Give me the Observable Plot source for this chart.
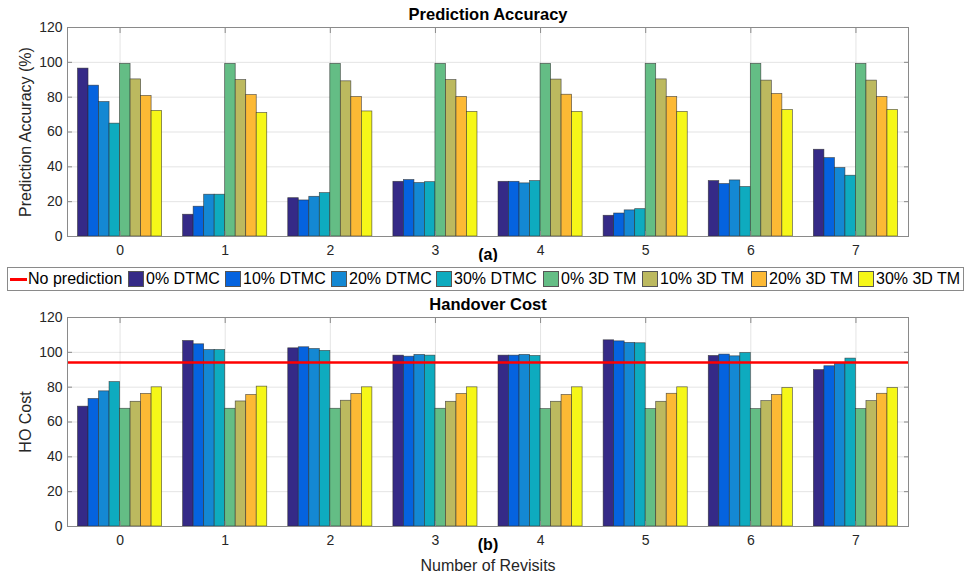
<!DOCTYPE html>
<html>
<head>
<meta charset="utf-8">
<script src="https://cdn.jsdelivr.net/npm/d3@7"></script>
<script src="https://cdn.jsdelivr.net/npm/@observablehq/plot@0.6"></script>
<style>
  body { margin: 0; background: #fff; font-family: "Liberation Sans", Arial, sans-serif; }
  #wrap { position: relative; width: 967px; height: 576px; overflow: hidden; background: #fff; }
  #top { position: absolute; left: 0; top: 0; }
  #bottom { position: absolute; left: 0; top: 295px; }
  #legend { position: absolute; left: 7px; top: 267px; width: 957px; height: 24px; box-sizing: border-box;
            border: 1px solid #8a8a8a; background: #fff; font-size: 16px; color: #000; white-space: nowrap; }
  .item { position: absolute; top: 0; height: 22px; display: flex; align-items: center; }
  .sw { width: 16px; height: 16px; border: 1px solid #555; box-sizing: border-box; margin-right: 2px; }
  .ln { width: 17px; height: 3px; background: #ff0000; margin-right: 1px; }
</style>
</head>
<body>
<div id="wrap">
  <div id="top"></div>
  <div id="legend"></div>
  <div id="bottom"></div>
</div>
<script>
// ---------- data ----------
const revisits = [0, 1, 2, 3, 4, 5, 6, 7];
const seriesNames = ["0% DTMC", "10% DTMC", "20% DTMC", "30% DTMC", "0% 3D TM", "10% 3D TM", "20% 3D TM", "30% 3D TM"];
const seriesColors = ["#352a87", "#0563df", "#1488d3", "#0eabbf", "#64bd85", "#bcb95f", "#fcb935", "#f6f718"];
const yTicks = [0, 20, 40, 60, 80, 100, 120];
const noPredictionLabel = "No prediction";
const noPredictionCost = [94.1];

// Prediction accuracy (%) per series, indexed by number of revisits
const acc0DTMC  = [96.4, 12.5, 22.0, 31.4, 31.4, 11.9, 31.8, 49.8];
const acc10DTMC = [86.6, 17.1, 20.7, 32.4, 31.4, 13.2, 30.1, 45.0];
const acc20DTMC = [77.2, 24.0, 22.8, 30.7, 30.5, 15.0, 32.2, 39.3];
const acc30DTMC = [64.8, 24.0, 24.9, 31.2, 31.8, 15.7, 28.4, 34.9];
const acc0TM    = [99.1, 99.1, 99.1, 99.1, 99.1, 99.1, 99.1, 99.1];
const acc10TM   = [90.2, 89.8, 89.1, 89.8, 90.1, 90.2, 89.5, 89.5];
const acc20TM   = [80.7, 81.2, 80.1, 80.1, 81.4, 80.1, 81.8, 80.1];
const acc30TM   = [72.1, 70.9, 71.8, 71.5, 71.5, 71.5, 72.6, 72.6];

// Handover cost per series, indexed by number of revisits
const ho0DTMC  = [68.8, 106.5, 102.3, 98.1, 98.1, 106.9, 97.9, 89.8];
const ho10DTMC = [73.2, 104.6, 102.9, 97.5, 98.1, 106.3, 98.7, 92.0];
const ho20DTMC = [77.6, 101.3, 101.9, 98.5, 98.5, 105.4, 97.7, 93.6];
const ho30DTMC = [82.9, 101.3, 100.8, 98.1, 97.9, 105.2, 99.6, 96.4];
const ho0TM    = [67.6, 67.6, 67.6, 67.6, 67.4, 67.4, 67.4, 67.4];
const ho10TM   = [71.6, 71.8, 72.2, 71.6, 71.6, 71.6, 72.0, 72.0];
const ho20TM   = [76.1, 75.5, 76.1, 76.1, 75.5, 76.2, 75.5, 76.2];
const ho30TM   = [79.9, 80.3, 79.9, 79.9, 79.9, 79.9, 79.5, 79.5];

const accRows = [acc0DTMC, acc10DTMC, acc20DTMC, acc30DTMC, acc0TM, acc10TM, acc20TM, acc30TM];
const hoRows  = [ho0DTMC, ho10DTMC, ho20DTMC, ho30DTMC, ho0TM, ho10TM, ho20TM, ho30TM];

// ---------- chart ----------
const groupWidth = 0.8;
const barW = groupWidth / seriesNames.length;
const FONT = "'Liberation Sans', Arial, Helvetica, sans-serif";

function chart({rows, title, letter, yLabel, xLabel, height, marginTop, marginBottom, extra = []}) {
  const data = rows.flatMap((vals, k) => vals.map((v, i) => ({revisit: revisits[i], series: seriesNames[k], k, value: v})));
  const marks = [
    Plot.gridY(yTicks, {stroke: "#000", strokeOpacity: 0.11}),
    Plot.gridX(revisits, {stroke: "#000", strokeOpacity: 0.11}),
    Plot.rect(data, {
      x1: d => d.revisit - groupWidth / 2 + d.k * barW,
      x2: d => d.revisit - groupWidth / 2 + (d.k + 1) * barW,
      y1: d => 0, y2: "value",
      fill: "series", stroke: "#2b2b2b", strokeWidth: 0.7, strokeOpacity: 0.75
    }),
    ...extra,
    Plot.frame({stroke: "#8a8a8a"}),
    Plot.axisY(yTicks, {anchor: "left", tickSize: 0, tickPadding: 5, label: null, fontSize: 14}),
    Plot.axisY(yTicks, {anchor: "left", tickSize: -5, tickFormat: () => "", label: null, stroke: "#8a8a8a"}),
    Plot.axisY(yTicks, {anchor: "right", tickSize: -5, tickFormat: () => "", label: null, stroke: "#8a8a8a"}),
    Plot.axisX(revisits, {anchor: "bottom", tickSize: 0, tickPadding: 9, label: null, fontSize: 14}),
    Plot.axisX(revisits, {anchor: "bottom", tickSize: -5, tickFormat: () => "", label: null, stroke: "#8a8a8a"}),
    Plot.axisX(revisits, {anchor: "top", tickSize: -5, tickFormat: () => "", label: null, stroke: "#8a8a8a"}),
    Plot.text([title], {text: d => d, frameAnchor: "top", lineAnchor: "middle", textAnchor: "middle", dy: -13, fontWeight: "bold", fontSize: 16.5, fill: "#000"}),
    Plot.text([letter], {text: d => d, frameAnchor: "bottom", lineAnchor: "middle", textAnchor: "middle", dy: 18, fontWeight: "bold", fontSize: 16, fill: "#000"}),
    Plot.text([yLabel], {text: d => d, frameAnchor: "left", lineAnchor: "middle", textAnchor: "middle", dx: -42, rotate: -90, fontSize: 16, fill: "#262626"})
  ];
  if (xLabel) marks.push(Plot.text([xLabel], {text: d => d, frameAnchor: "bottom", lineAnchor: "middle", textAnchor: "middle", dy: 39, fontSize: 16, fill: "#262626"}));
  return Plot.plot({
    width: 967, height, marginLeft: 67, marginRight: 59, marginTop, marginBottom,
    style: {fontFamily: FONT, fontSize: "14px", color: "#262626", background: "transparent"},
    x: {type: "linear", domain: [-0.5, 7.5]},
    y: {domain: [0, 120]},
    color: {domain: seriesNames, range: seriesColors},
    marks
  });
}

document.getElementById("top").append(chart({
  rows: accRows, title: "Prediction Accuracy", letter: "(a)", yLabel: "Prediction Accuracy (%)",
  height: 262, marginTop: 27, marginBottom: 26
}));

document.getElementById("bottom").append(chart({
  rows: hoRows, title: "Handover Cost", letter: "(b)", yLabel: "HO Cost", xLabel: "Number of Revisits",
  height: 281, marginTop: 22, marginBottom: 50,
  extra: [Plot.ruleY(noPredictionCost, {stroke: "#ff0000", strokeWidth: 2.5})]
}));

// ---------- legend ----------
const legend = document.getElementById("legend");
const legendLefts = [2, 120, 217, 323, 428, 535, 634, 743, 850];
{
  const it = document.createElement("div"); it.className = "item"; it.style.left = legendLefts[0] + "px";
  const ln = document.createElement("div"); ln.className = "ln";
  const tx = document.createElement("span"); tx.textContent = noPredictionLabel;
  it.append(ln, tx); legend.append(it);
}
seriesNames.forEach((name, i) => {
  const it = document.createElement("div"); it.className = "item"; it.style.left = legendLefts[i + 1] + "px";
  const sw = document.createElement("div"); sw.className = "sw"; sw.style.background = seriesColors[i];
  const tx = document.createElement("span"); tx.textContent = name;
  it.append(sw, tx); legend.append(it);
});
</script>
</body>
</html>
